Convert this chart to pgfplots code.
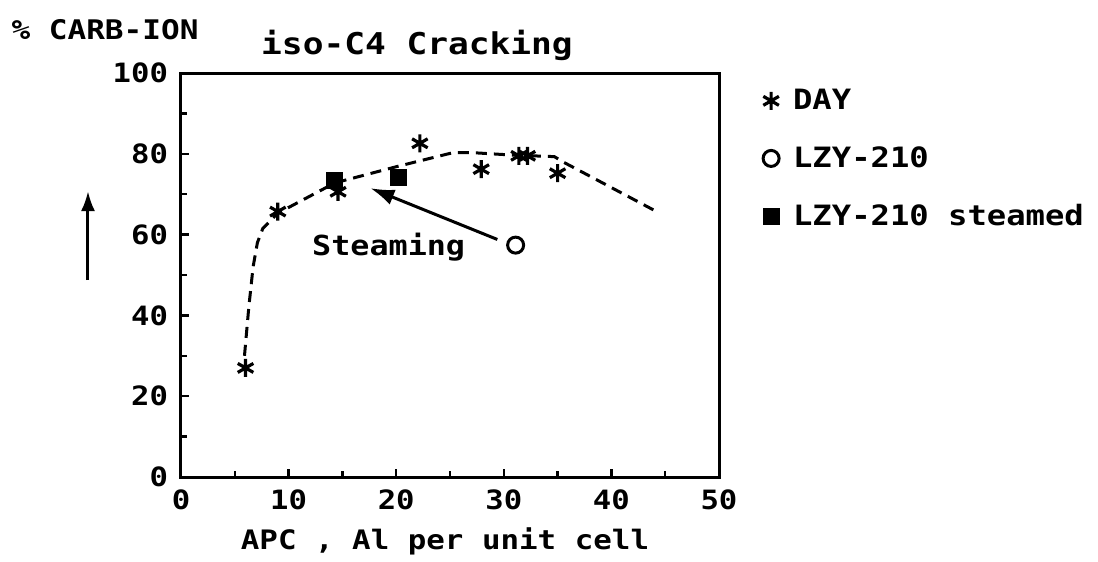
\documentclass[border=0pt]{standalone}
\usepackage{fontspec}
\setmainfont{DejaVu Sans Mono Bold}[FakeStretch=1.15]
\usepackage{pgfplots}
\pgfplotsset{compat=1.18}
\usetikzlibrary{arrows.meta}
\begin{document}
\begin{tikzpicture}
\path (-90.5pt,-39.5pt) rectangle (458.5pt,238.5pt);
\begin{axis}[
  at={(0,0)}, anchor=origin,
  scale only axis, width=269pt, height=202pt,
  xmin=0, xmax=50, ymin=0, ymax=100,
  xtick={0,10,...,50}, minor xtick={5,15,...,45},
  ytick={0,20,...,100}, minor ytick={10,30,...,90},
  tick pos=left, tick align=inside,
  major tick length=4pt, minor tick length=3pt,
  every tick/.style={black, line width=1.2pt},
  axis line style={line width=1.5pt},
  font=\fontsize{13.3}{15}\selectfont,
  /pgf/number format/assume math mode=true,
  xticklabel style={yshift=-3pt},
  yticklabel style={xshift=-3pt},
  clip=false,
  legend cell align=left,
  legend style={draw=none, fill=none, inner sep=0pt, outer sep=0pt,
    at={(1.082,0.97)}, anchor=north west,
    row sep=13pt, column sep=5pt, font=\fontsize{14}{16}\selectfont},
]
\addplot[black, line width=1.5pt, dash pattern=on 5.5pt off 3.5pt, forget plot] coordinates {
(5.9,30) (6.3,42) (6.7,52) (7.1,58) (7.6,61.5) (9,65.3) (14.3,72.8) (20,76.8)
(25.3,80.3) (27,80.3) (30.7,79.7) (34.7,79.3) (35.5,78) (44.2,65.7)};
\addplot[only marks, mark=asterisk, mark size=4.5pt, line width=1.6pt, black] coordinates {
(6,27) (9,65.7) (14.6,70.6) (22.2,82.6) (27.9,76.2) (31.4,79.5) (32.2,79.5) (35,75.2)};
\addlegendentry{DAY}
\addplot[only marks, mark=o, mark size=4pt, line width=1.5pt, black] coordinates {
(31.1,57.4)};
\addlegendentry{LZY-210}
\addplot[only marks, mark=square*, mark size=4pt, black] coordinates {
(14.3,73.5) (20.2,74.2)};
\addlegendentry{LZY-210 steamed}
\draw[line width=1.5pt, -{Latex[length=12pt,width=8pt]}] (axis cs:29.4,58.8) -- (axis cs:17.6,71.5);
\node[font=\fontsize{13.8}{15}\selectfont] at (axis cs:19.3,56.9) {Steaming};
\end{axis}
\node[font=\fontsize{15}{17}\selectfont] at (118pt,216pt) {iso-C4 Cracking};
\node[font=\fontsize{13.5}{15}\selectfont] at (-38pt,223.5pt) {\% CARB-ION};
\draw[line width=1.5pt, -{Latex[length=10pt,width=7pt]}] (-46.5pt,98.5pt) -- (-46.5pt,143pt);
\node[font=\fontsize{13.4}{15}\selectfont] at (132pt,-32pt) {APC , Al per unit cell};
\end{tikzpicture}
\end{document}
